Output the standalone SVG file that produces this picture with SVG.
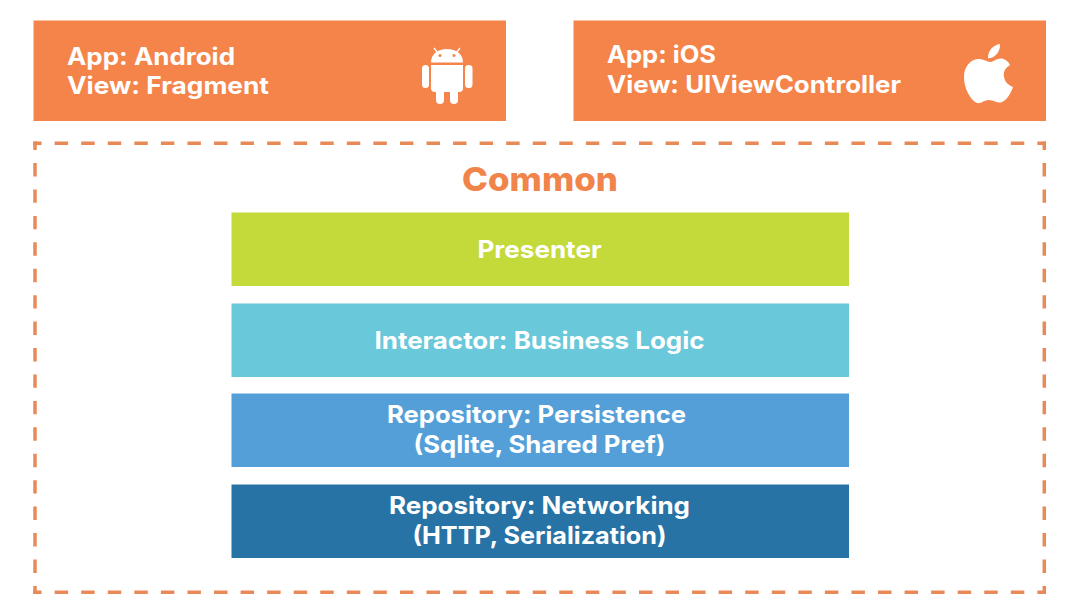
<svg xmlns="http://www.w3.org/2000/svg" width="1080" height="608" viewBox="0 0 1080 608">
<style>
text{font-family:"Inter","Noto Sans","Liberation Sans",sans-serif;font-weight:700;fill:#fff;font-size:24px}
.m{text-anchor:middle}
.w{fill:#fff}
.o{fill:#F5844A}
.d{fill:none;stroke:#E88A58;stroke-width:3.500}
</style>
<rect width="1080" height="608" fill="#fff"/>
<g id="common">
<path class="d" d="M33.300 143.300H1046M33.300 592.300H1046" stroke-dasharray="13.450 13.110" stroke-dashoffset="5.200"/>
<path class="d" d="M35 141.600V594M1044.300 141.600V594" stroke-dasharray="13.400 13.030" stroke-dashoffset="5"/>
<text class="m" x="540" y="191" style="font-size:33px;font-weight:800;fill:#F0844A" textLength="156" lengthAdjust="spacingAndGlyphs">Common</text>
</g>
<g id="android">
<rect class="o" x="33.500" y="20.500" width="472.500" height="100.500"/>
<text x="67" y="65" textLength="168" lengthAdjust="spacingAndGlyphs">App: Android</text>
<text x="67" y="94" textLength="202" lengthAdjust="spacingAndGlyphs">View: Fragment</text>
<path class="w" d="M431 62.500C431 54 438 49 447 49S463 54 463 62.500Z"/>
<path d="M434 48L438 53M460 48L456 53" stroke="#fff" stroke-width="1.300"/>
<circle cx="440" cy="55.500" r="1.500" fill="#F5844A"/>
<circle cx="454" cy="55.500" r="1.500" fill="#F5844A"/>
<path class="w" d="M431 65H463V88Q463 92 459 92H435Q431 92 431 88Z"/>
<rect class="w" x="422" y="65" width="7" height="23" rx="3.500"/>
<rect class="w" x="465" y="65" width="7.500" height="23" rx="3.500"/>
<rect class="w" x="436" y="86" width="8" height="18" rx="4"/>
<rect class="w" x="450" y="86" width="8" height="18" rx="4"/>
</g>
<g id="ios">
<rect class="o" x="573.500" y="20.500" width="472.500" height="100.500"/>
<text x="607" y="63" textLength="109" lengthAdjust="spacingAndGlyphs">App: iOS</text>
<text x="607" y="93" textLength="294" lengthAdjust="spacingAndGlyphs">View: UIViewController</text>
<path class="w" d="M1000 44C1000.500 52 995 58 988 58.500C987.500 51 993 45 1000 44Z"/>
<path class="w" d="M1010 65C1005 68 1003 72 1004 77C1005 82 1008 85 1013 87C1011 93 1007 100 1002 102C998 104 994 100 989 100C984 100 981 104 977 103C970 100 964 88 964 77C964 66 971 59 979 59C984 59 987 62 990 62C993 62 997 58 1002 58.500C1005 59 1008 61 1010 65Z"/>
</g>
<g id="presenter">
<rect x="231.500" y="212.500" width="617.500" height="73.500" fill="#C4DA3B"/>
<text class="m" x="539.500" y="258" textLength="124" lengthAdjust="spacingAndGlyphs">Presenter</text>
</g>
<g id="interactor">
<rect x="231.500" y="303.500" width="617.500" height="73.500" fill="#69C8D9"/>
<text class="m" x="539.500" y="349" textLength="330" lengthAdjust="spacingAndGlyphs">Interactor: Business Logic</text>
</g>
<g id="persistence">
<rect x="231.500" y="393.500" width="617.500" height="73.500" fill="#559FD9"/>
<text class="m" x="536.500" y="423" textLength="299" lengthAdjust="spacingAndGlyphs">Repository: Persistence</text>
<text class="m" x="539.500" y="453" textLength="252" lengthAdjust="spacingAndGlyphs">(Sqlite, Shared Pref)</text>
</g>
<g id="networking">
<rect x="231.500" y="484.500" width="617.500" height="73.500" fill="#2873A6"/>
<text class="m" x="539.500" y="514" textLength="301" lengthAdjust="spacingAndGlyphs">Repository: Networking</text>
<text class="m" x="539.500" y="544" textLength="254" lengthAdjust="spacingAndGlyphs">(HTTP, Serialization)</text>
</g>
<g id="connectors"/>
</svg>
